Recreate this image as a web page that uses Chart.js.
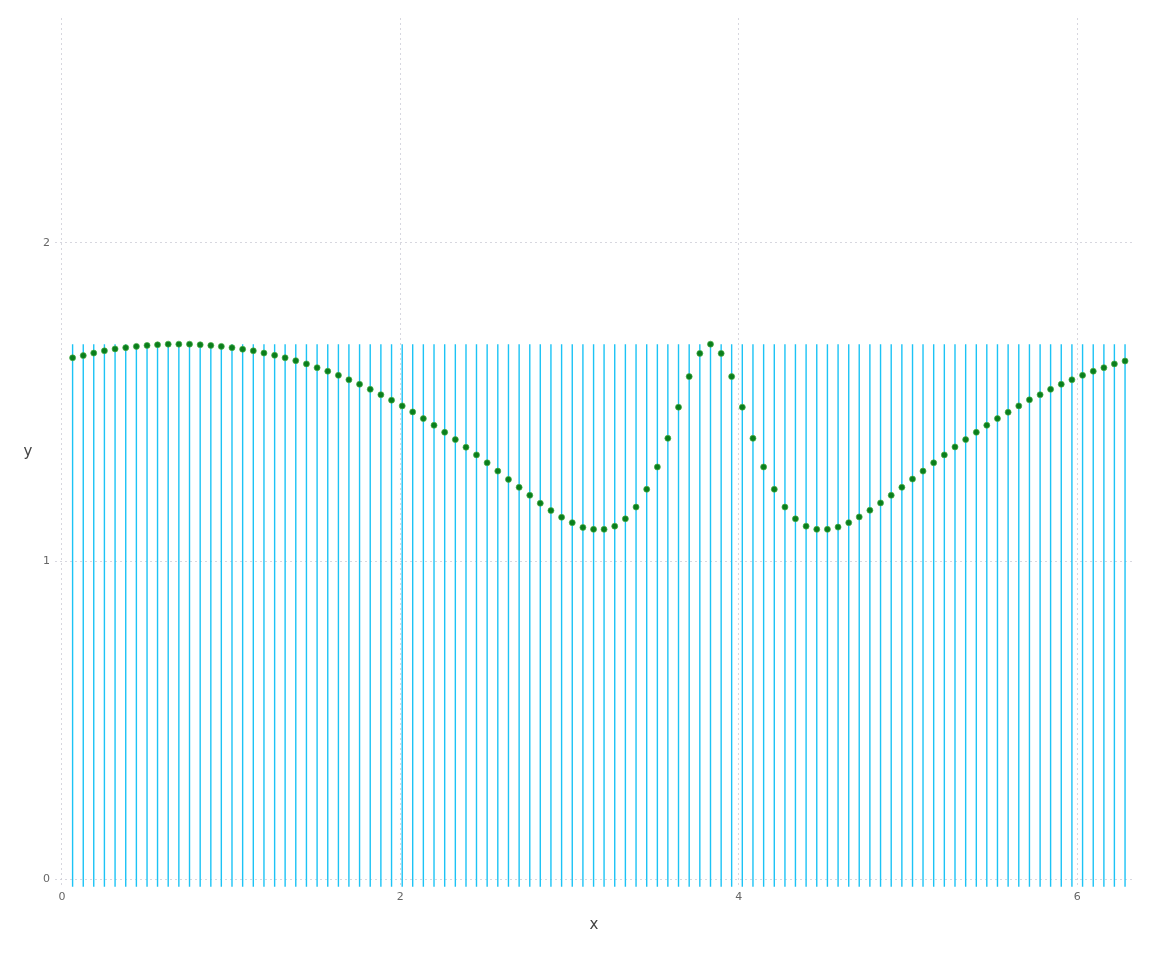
<!DOCTYPE html>
<html>
<head>
<meta charset="utf-8">
<script src="https://cdn.jsdelivr.net/npm/chart.js@4.4.1/dist/chart.umd.min.js"></script>
<style>
  html, body { margin: 0; padding: 0; background: #ffffff; }
  #wrap { position: relative; width: 1152px; height: 960px; }
</style>
</head>
<body>
<div id="wrap"><canvas id="chart"></canvas></div>
<script>
// x positions of the points / stems
var xs = [0.063, 0.126, 0.188, 0.251, 0.314, 0.377, 0.440, 0.503, 0.565, 0.628,
          0.691, 0.754, 0.817, 0.880, 0.942, 1.005, 1.068, 1.131, 1.194, 1.257,
          1.319, 1.382, 1.445, 1.508, 1.571, 1.634, 1.696, 1.759, 1.822, 1.885,
          1.948, 2.011, 2.073, 2.136, 2.199, 2.262, 2.325, 2.388, 2.450, 2.513,
          2.576, 2.639, 2.702, 2.765, 2.827, 2.890, 2.953, 3.016, 3.079, 3.142,
          3.204, 3.267, 3.330, 3.393, 3.456, 3.519, 3.581, 3.644, 3.707, 3.770,
          3.833, 3.896, 3.958, 4.021, 4.084, 4.147, 4.210, 4.273, 4.335, 4.398,
          4.461, 4.524, 4.587, 4.650, 4.712, 4.775, 4.838, 4.901, 4.964, 5.027,
          5.089, 5.152, 5.215, 5.278, 5.341, 5.404, 5.466, 5.529, 5.592, 5.655,
          5.718, 5.781, 5.843, 5.906, 5.969, 6.032, 6.095, 6.158, 6.220, 6.283];

// y values of the green points
var ys = [1.639, 1.646, 1.654, 1.661, 1.667, 1.671, 1.675, 1.678, 1.680, 1.682,
          1.682, 1.682, 1.680, 1.678, 1.675, 1.671, 1.666, 1.661, 1.654, 1.647,
          1.639, 1.630, 1.620, 1.608, 1.597, 1.584, 1.570, 1.556, 1.540, 1.523,
          1.506, 1.488, 1.469, 1.448, 1.427, 1.405, 1.382, 1.358, 1.334, 1.309,
          1.283, 1.257, 1.232, 1.207, 1.182, 1.159, 1.138, 1.121, 1.106, 1.100,
          1.100, 1.110, 1.133, 1.170, 1.226, 1.296, 1.386, 1.484, 1.580, 1.653,
          1.682, 1.653, 1.580, 1.484, 1.386, 1.296, 1.226, 1.170, 1.133, 1.110,
          1.100, 1.100, 1.107, 1.121, 1.139, 1.160, 1.183, 1.207, 1.232, 1.258,
          1.283, 1.309, 1.334, 1.359, 1.382, 1.405, 1.427, 1.448, 1.468, 1.488,
          1.507, 1.523, 1.540, 1.556, 1.570, 1.584, 1.597, 1.608, 1.620, 1.629];

// vertical stems run from stemLow to stemHigh at every x
var stemLow = -0.023;
var stemHigh = 1.682;

var xTicks = [0, 2, 4, 6];
var yTicks = [0, 1, 2];
var xTitle = 'x';
var yTitle = 'y';

// points dataset
var pointData = xs.map(function (x, i) { return {x: x, y: ys[i]}; });

// stems: low -> high, then a null to break the line
var stemData = [];
xs.forEach(function (x) {
    stemData.push({x: x, y: stemLow});
    stemData.push({x: x, y: stemHigh});
    stemData.push({x: x, y: null});
});

var gridStyle = {
    color: 'rgba(205,205,215,0.8)',
    lineWidth: 1,
    drawTicks: false
};

// upright y title (Chart.js would rotate it)
var yTitlePlugin = {
    id: 'yTitleUpright',
    afterDraw: function (chart) {
        var ctx = chart.ctx;
        var area = chart.chartArea;
        ctx.save();
        ctx.fillStyle = '#444444';
        ctx.font = '15px "DejaVu Sans", sans-serif';
        ctx.textAlign = 'center';
        ctx.textBaseline = 'middle';
        ctx.fillText(yTitle, 28, (area.top + area.bottom) / 2);
        ctx.restore();
    }
};

new Chart(document.getElementById('chart'), {
    type: 'scatter',
    data: {
        datasets: [{
            label: 'points',
            data: pointData,
            order: 0,
            showLine: false,
            pointRadius: 3,
            pointBorderWidth: 1,
            pointBackgroundColor: '#0b7d1c',
            pointBorderColor: 'rgba(70,175,70,0.7)'
        }, {
            label: 'stems',
            data: stemData,
            order: 1,
            showLine: true,
            spanGaps: false,
            borderColor: '#1cc3f5',
            borderWidth: 1.4,
            pointRadius: 0,
            fill: false
        }]
    },
    options: {
        responsive: true,
        maintainAspectRatio: false,
        animation: false,
        layout: {
            padding: {top: 18, right: 19, left: 0, bottom: 0}
        },
        plugins: {
            legend: {display: false},
            tooltip: {enabled: false}
        },
        scales: {
            x: {
                type: 'linear',
                min: -0.041,
                max: 6.33,
                border: {display: false, dash: [2, 3]},
                grid: gridStyle,
                afterBuildTicks: function (scale) {
                    scale.ticks = xTicks.map(function (v) { return {value: v}; });
                },
                afterFit: function (scale) { scale.height = 73; },
                ticks: {
                    padding: 4,
                    color: '#666666',
                    font: {family: '"DejaVu Sans", sans-serif', size: 11}
                },
                title: {
                    display: true,
                    text: xTitle,
                    color: '#444444',
                    padding: {top: 0, bottom: 26},
                    font: {family: '"DejaVu Sans", sans-serif', size: 15}
                }
            },
            y: {
                type: 'linear',
                min: -0.024,
                max: 2.707,
                border: {display: false, dash: [2, 3]},
                grid: gridStyle,
                afterBuildTicks: function (scale) {
                    scale.ticks = yTicks.map(function (v) { return {value: v}; });
                },
                afterFit: function (scale) { scale.width = 55; },
                ticks: {
                    padding: 5,
                    color: '#666666',
                    font: {family: '"DejaVu Sans", sans-serif', size: 11}
                },
                title: {display: false}
            }
        }
    },
    plugins: [yTitlePlugin]
});
</script>
</body>
</html>
